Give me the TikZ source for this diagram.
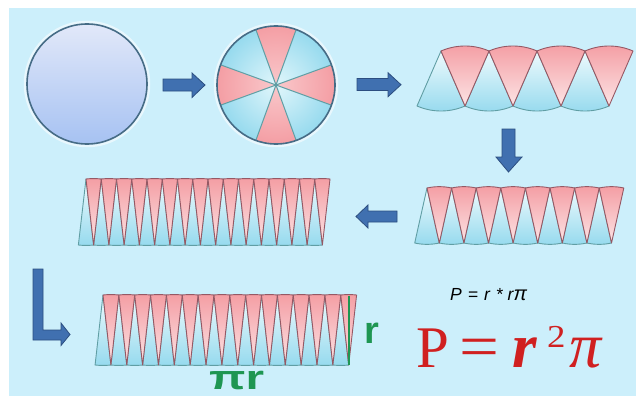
\documentclass[tikz,border=0pt]{standalone}
\usepackage{fontspec}
\newfontfamily\lsans{Liberation Sans}
\newfontfamily\lserif{Liberation Serif}
\definecolor{bgc}{RGB}{204,239,251}
\definecolor{pinkD}{RGB}{244,158,164}
\definecolor{pinkL}{RGB}{252,228,229}
\definecolor{pinkM}{RGB}{249,200,203}
\definecolor{blueD}{RGB}{150,218,238}
\definecolor{blueL}{RGB}{238,250,253}
\definecolor{blueM}{RGB}{225,246,251}
\definecolor{mauve}{RGB}{150,88,100}
\definecolor{teal}{RGB}{96,158,164}
\definecolor{arrowF}{RGB}{64,112,176}
\definecolor{arrowD}{RGB}{44,78,128}
\definecolor{gr}{RGB}{30,150,82}
\definecolor{rd}{RGB}{208,32,32}
\definecolor{circT}{RGB}{226,232,249}
\definecolor{circB}{RGB}{166,194,242}
\definecolor{circE}{RGB}{70,108,134}
\tikzset{
  bigarrow/.style={fill=arrowF, draw=arrowD, line width=0.8pt, line join=miter},
  blueseg/.style={draw=teal, line width=0.9pt, line join=round, top color=blueL, bottom color=blueD},
  pinkseg/.style={draw=mauve, line width=0.9pt, line join=round, top color=pinkD, bottom color=pinkL},
  secline/.style={draw=teal, line width=1pt},
  halo/.style={draw=white, opacity=0.55, line width=3.5pt},
  formula/.style={anchor=base west, inner sep=0pt, text=rd}
}
% #1 x of first blue apex, #2 top y (pixels, downwards), #3 height, #4 chord width, #5 count
\newcommand{\mystrip}[5]{%
  \pgfmathsetmacro{\sR}{sqrt((#3)*(#3)+(#4)*(#4)/4)}%
  \pgfmathsetmacro{\sA}{asin((#4)/2/\sR)}%
  \foreach \j in {1,...,#5}{%
    \path[blueseg] ({#1+(\j-1)*#4},{-#2}) -- ++({270-\sA}:\sR pt)
      arc[start angle={270-\sA}, end angle={270+\sA}, radius=\sR pt] -- cycle;
  }%
  \foreach \j in {1,...,#5}{%
    \path[pinkseg] ({#1+(\j-0.5)*#4},{-(#2+#3)}) -- ++({90-\sA}:\sR pt)
      arc[start angle={90-\sA}, end angle={90+\sA}, radius=\sR pt] -- cycle;
  }%
}
\begin{document}
\begin{tikzpicture}[x=1pt,y=1pt]
\useasboundingbox (0,0) rectangle (636,-396);
\fill[white] (0,0) rectangle (636,-396);
\fill[bgc] (9,-8) rectangle (636,-396);

% circle 1
\coordinate (c1) at (87,-84);
\draw[halo] (c1) circle[radius=61.5pt];
\shade[top color=circT, bottom color=circB] (c1) circle[radius=60pt];
\draw[circE, line width=1.6pt] (c1) circle[radius=60pt];

% arrow 1
\path[bigarrow] (163,-79) -- (192,-79) -- (192,-73) -- (205,-85) -- (192,-97.5) -- (192,-91) -- (163,-91) -- cycle;

% circle 2
\coordinate (c2) at (276,-85);
\draw[halo] (c2) circle[radius=60.5pt];
\foreach \a/\b/\cc in {70/110/pink, 160/200/pink, 250/290/pink, 340/380/pink,
                       110/160/blue, 200/250/blue, 290/340/blue, 20/70/blue}{
  \begin{scope}
    \clip (c2) -- ++(\a:59pt) arc[start angle=\a, end angle=\b, radius=59pt] -- cycle;
    \shade[inner color=\cc M, outer color=\cc D] (c2) circle[radius=59pt];
  \end{scope}
}
\foreach \a in {20,70,110,160,200,250,290,340}{
  \draw[secline] (c2) -- ++(\a:59pt);
}
\draw[circE, line width=1.6pt] (c2) circle[radius=59pt];

% arrow 2
\path[bigarrow] (357,-78.5) -- (388,-78.5) -- (388,-72.7) -- (401,-84.7) -- (388,-96.7) -- (388,-90.5) -- (357,-90.5) -- cycle;

% strip 1
\mystrip{441}{51}{55}{48}{4}

% arrow 3 (down)
\path[bigarrow] (502,-129) -- (515,-129) -- (515,-157) -- (522,-157) -- (508.5,-172) -- (496,-157) -- (502,-157) -- cycle;

% strip 2
\mystrip{427}{188}{55}{24.6}{8}

% arrow 4 (left)
\path[bigarrow] (397,-211) -- (368,-211) -- (368,-205) -- (356,-216.5) -- (368,-228) -- (368,-222) -- (397,-222) -- cycle;

% strip 3
\mystrip{86}{179}{66}{15.25}{16}

% arrow 5 (L shaped)
\path[bigarrow] (33,-269) -- (43,-269) -- (43,-330) -- (61,-330) -- (61,-323) -- (70,-334.5) -- (61,-345.5) -- (61,-340) -- (33,-340) -- cycle;

% strip 4
\mystrip{103}{295}{70}{15.85}{16}
\coordinate (gtop) at (348.7,-295.5);
\coordinate (gbot) at (348.7,-365);
\draw[gr, line width=1.6pt] (gtop) -- (gbot);

% labels
\node[anchor=base west, inner sep=0pt, text=gr] (lpir) at (209,-389)
  {\lsans\bfseries\fontsize{34}{34}\selectfont\scalebox{1.4}[1]{πr}};
\node[anchor=base west, inner sep=0pt, text=gr] (lr) at (364,-343)
  {\lsans\bfseries\fontsize{38}{38}\selectfont r};
\node[anchor=base west, inner sep=0pt] (f1) at (450,-300.7)
  {\lsans\itshape\fontsize{17.5}{18}\selectfont P\hspace{6pt}=\hspace{6pt}r\hspace{6pt}*\hspace{5pt}r\fontsize{20}{20}\selectfont π};

\node[formula] (fP) at (416,-367)
  {\lserif\fontsize{59}{60}\selectfont P};
\node[formula] (fEq) at (459,-367)
  {\lserif\fontsize{59}{60}\selectfont\scalebox{1.2}[1.05]{=}};
\node[formula] (fR) at (512,-367)
  {\lserif\bfseries\itshape\fontsize{63}{64}\selectfont r};
\node[formula] (f2) at (547,-347)
  {\lserif\fontsize{32}{32}\selectfont\scalebox{1.15}[1]{2}};
\node[formula] (fPi) at (569,-367)
  {\lserif\itshape\fontsize{64}{64}\selectfont π};
\end{tikzpicture}
\end{document}
